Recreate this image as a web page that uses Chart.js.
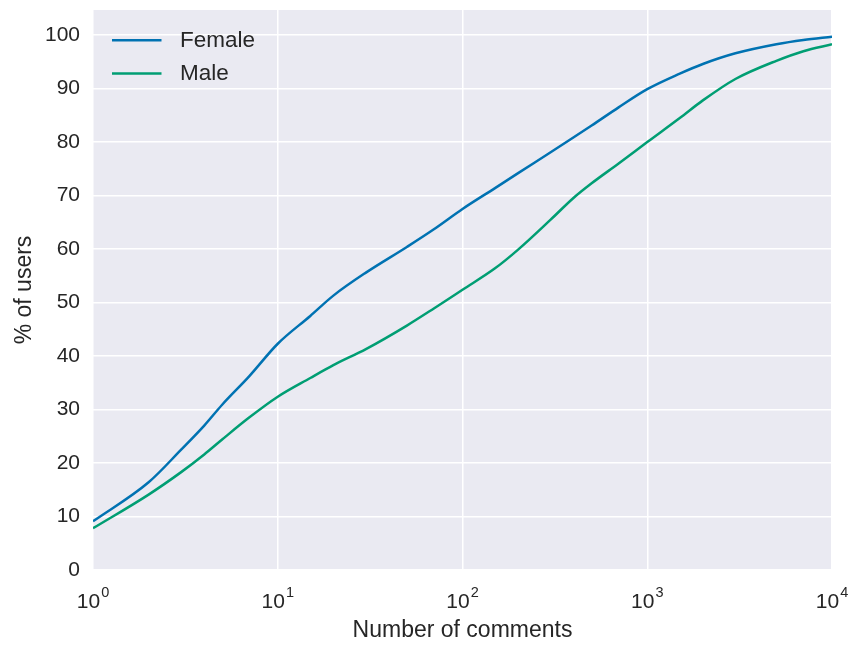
<!DOCTYPE html>
<html><head><meta charset="utf-8">
<script src="https://cdn.jsdelivr.net/npm/chart.js@4/dist/chart.umd.min.js"></script>
<style>html,body{margin:0;padding:0;background:#fff}#wrap{width:853px;height:646px;position:relative}</style>
</head><body><div id="wrap"><canvas id="c" width="853" height="646"></canvas></div>
<script>
const comments = [1,2,3,4,5,7,10,15,20,30,50,70,100,150,200,300,400,500,700,1000,1500,2000,3000,5000,7000,10000];
const female = [9.1,16.4,22.5,27.0,30.9,36.2,42.3,47.5,51.3,55.6,60.4,63.7,67.5,71.4,74.2,78.1,80.9,83.1,86.5,89.9,92.8,94.6,96.6,98.3,99.1,99.7];
const male = [7.8,14.1,18.3,21.6,24.4,28.5,32.4,35.9,38.3,41.3,45.7,48.9,52.4,56.4,59.9,65.5,69.6,72.3,76.0,80.0,84.5,87.8,91.8,95.2,97.0,98.3];
const seriesNames = ['Female','Male'];
const seriesColors = ['#0072B2','#009E73'];
const xTickValues = [1,10,100,1000,10000];
const xTickBase = '10';
const xTickExponents = ['0','1','2','3','4'];
const yTickValues = [0,10,20,30,40,50,60,70,80,90,100];
const xTitle = 'Number of comments';
const yTitle = '% of users';

const FONT = "'Liberation Sans', Arial, sans-serif";
const TEXT = '#262626';

const bgPlugin = {
  id: 'bg',
  beforeDraw(chart) {
    const {ctx, chartArea: a} = chart;
    ctx.save();
    ctx.fillStyle = '#EAEAF2';
    ctx.fillRect(a.left, a.top, a.right - a.left, a.bottom - a.top);
    ctx.restore();
  }
};

const xLabelPlugin = {
  id: 'xlabels',
  afterDraw(chart) {
    const {ctx} = chart;
    const xs = chart.scales.x;
    ctx.save();
    ctx.fillStyle = TEXT;
    ctx.textBaseline = 'alphabetic';
    ctx.textAlign = 'left';
    xTickValues.forEach((v, i) => {
      const px = xs.getPixelForValue(v);
      ctx.font = '21px ' + FONT;
      const wb = ctx.measureText(xTickBase).width;
      ctx.font = '14.5px ' + FONT;
      const we = ctx.measureText(xTickExponents[i]).width;
      const total = wb + 1 + we;
      const x0 = px - total / 2;
      ctx.font = '21px ' + FONT;
      ctx.fillText(xTickBase, x0, 608);
      ctx.font = '14.5px ' + FONT;
      ctx.fillText(xTickExponents[i], x0 + wb + 1, 597);
    });
    ctx.restore();
  }
};

const legendPlugin = {
  id: 'customLegend',
  afterDraw(chart) {
    const {ctx, chartArea: a} = chart;
    ctx.save();
    ctx.font = '22.5px ' + FONT;
    ctx.textBaseline = 'middle';
    ctx.textAlign = 'left';
    seriesNames.forEach((name, i) => {
      const y = a.top + 30.3 + i * 33.3;
      ctx.strokeStyle = seriesColors[i];
      ctx.lineWidth = 2.5;
      ctx.beginPath();
      ctx.moveTo(a.left + 19, y);
      ctx.lineTo(a.left + 68.5, y);
      ctx.stroke();
      ctx.fillStyle = TEXT;
      ctx.fillText(name, a.left + 87, y + 0.5);
    });
    ctx.restore();
  }
};

new Chart(document.getElementById('c'), {
  type: 'line',
  data: {
    datasets: [
      {label: seriesNames[0], data: comments.map((c, i) => ({x: c, y: female[i]})), borderColor: seriesColors[0], borderWidth: 2.5, pointRadius: 0, cubicInterpolationMode: 'monotone', fill: false},
      {label: seriesNames[1], data: comments.map((c, i) => ({x: c, y: male[i]})), borderColor: seriesColors[1], borderWidth: 2.5, pointRadius: 0, cubicInterpolationMode: 'monotone', fill: false}
    ]
  },
  options: {
    responsive: false,
    animation: false,
    layout: {padding: {left: 0, top: 10, right: 21, bottom: 0}},
    plugins: {legend: {display: false}, tooltip: {enabled: false}},
    scales: {
      x: {
        type: 'logarithmic', min: 1, max: 10000,
        afterBuildTicks: s => { s.ticks = xTickValues.map(v => ({value: v})); },
        afterFit: s => { s.height = 76; s.paddingLeft = 0; s.paddingRight = 0; },
        ticks: {display: false},
        grid: {color: '#ffffff', lineWidth: 1.5, drawTicks: false},
        border: {display: false},
        title: {display: true, text: xTitle, color: TEXT, font: {family: FONT, size: 23}, padding: {top: 0, bottom: 2}}
      },
      y: {
        type: 'linear', min: 0, max: 104.7,
        afterBuildTicks: s => { s.ticks = yTickValues.map(v => ({value: v})); },
        afterFit: s => { s.width = 93; s.paddingTop = 0; s.paddingBottom = 0; },
        ticks: {color: TEXT, font: {family: FONT, size: 21}, padding: 13},
        grid: {color: '#ffffff', lineWidth: 1.5, drawTicks: false},
        border: {display: false},
        title: {display: true, text: yTitle, color: TEXT, font: {family: FONT, size: 23}, padding: {top: 11, bottom: 0}}
      }
    }
  },
  plugins: [bgPlugin, xLabelPlugin, legendPlugin]
});
</script></body></html>
